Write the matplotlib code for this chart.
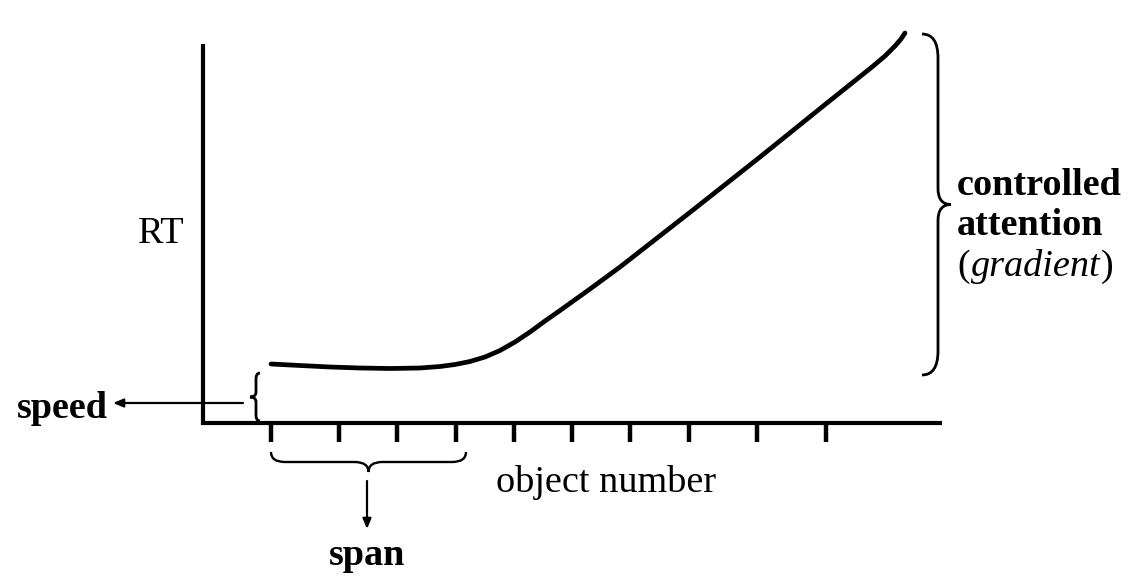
import matplotlib
matplotlib.use("Agg")
import matplotlib.pyplot as plt
from matplotlib.path import Path
from matplotlib.patches import PathPatch

# ---- data (schematic, in picture units) ----
curve_x = [271, 300, 330, 360, 390, 420, 440, 455, 470, 485, 500, 515, 530, 545, 560, 590, 620,
           693, 760, 827, 857, 872, 885, 895, 901, 905]
curve_y = [364, 365.5, 367, 368, 368.5, 368, 366.5, 364.5, 361.5, 357, 350.5, 342, 332, 321, 310.5, 289, 267,
           210, 157, 103, 79, 67, 56, 46, 39, 33]
tick_x = [271, 339, 397, 456, 514, 572, 630, 689, 757, 826]
x_axis_label = "object number"
y_axis_label = "RT"
span_label = "span"
speed_label = "speed"
right_lines = ["controlled", "attention"]
gradient_word = "gradient"

SERIF = "Liberation Serif"
FS = 27.5

fig = plt.figure(figsize=(11.29, 5.77), dpi=100)
ax = fig.add_axes([0, 0, 1, 1])
ax.set_xlim(0, 1129)
ax.set_ylim(577, 0)
ax.axis("off")

# axes lines
ax.plot([203, 203], [44, 425], color="black", lw=3.0, solid_capstyle="butt")
ax.plot([201, 942], [423, 423], color="black", lw=3.0, solid_capstyle="butt")
for tx in tick_x:
    ax.plot([tx, tx], [423, 442], color="black", lw=3.2, solid_capstyle="butt")

# curve
ax.plot(curve_x, curve_y, color="black", lw=3.4, solid_capstyle="round", solid_joinstyle="round")


def vbrace(x0, xm, xt, y0, y1, r, rt, lw):
    """vertical brace: ends at x0, spine at xm, tip at xt"""
    ym = (y0 + y1) / 2
    verts = [(x0, y0), (xm, y0), (xm, y0 + r),
             (xm, ym - rt), (xm, ym), (xt, ym),
             (xm, ym), (xm, ym + rt),
             (xm, y1 - r), (xm, y1), (x0, y1)]
    codes = [Path.MOVETO, Path.CURVE3, Path.CURVE3,
             Path.LINETO, Path.CURVE3, Path.CURVE3,
             Path.CURVE3, Path.CURVE3,
             Path.LINETO, Path.CURVE3, Path.CURVE3]
    ax.add_patch(PathPatch(Path(verts, codes), fill=False, lw=lw, color="black"))


def hbrace(y0, ym_, yt, x0, x1, r, lw):
    xm = (x0 + x1) / 2
    verts = [(x0, y0), (x0, ym_), (x0 + r, ym_),
             (xm - r, ym_), (xm, ym_), (xm, yt),
             (xm, ym_), (xm + r, ym_),
             (x1 - r, ym_), (x1, ym_), (x1, y0)]
    codes = [Path.MOVETO, Path.CURVE3, Path.CURVE3,
             Path.LINETO, Path.CURVE3, Path.CURVE3,
             Path.CURVE3, Path.CURVE3,
             Path.LINETO, Path.CURVE3, Path.CURVE3]
    ax.add_patch(PathPatch(Path(verts, codes), fill=False, lw=lw, color="black"))


# right brace (controlled attention)
vbrace(922, 938, 951, 34, 375, 24, 16, 2.0)
# speed brace (left pointing)
vbrace(260, 256, 250, 373, 421, 6, 5, 2.0)
# span brace
hbrace(452, 462, 472, 271, 466, 14, 1.7)

# arrows
ax.annotate("", xy=(113, 403), xytext=(243, 403),
            arrowprops=dict(arrowstyle="-|>,head_length=0.6,head_width=0.25", lw=1.6, color="black",
                            shrinkA=0, shrinkB=0))
ax.annotate("", xy=(367, 529), xytext=(367, 481),
            arrowprops=dict(arrowstyle="-|>,head_length=0.6,head_width=0.25", lw=1.6, color="black",
                            shrinkA=0, shrinkB=0))

# texts
ax.text(138, 243, y_axis_label, fontsize=FS, family=SERIF, ha="left", va="baseline")
ax.text(496, 492, x_axis_label, fontsize=FS, family=SERIF, ha="left", va="baseline")
ax.text(108, 418, speed_label, fontsize=FS, family=SERIF, weight="bold", ha="right", va="baseline")
ax.text(367, 565, span_label, fontsize=FS, family=SERIF, weight="bold", ha="center", va="baseline")
ax.text(957, 195, right_lines[0], fontsize=FS, family=SERIF, weight="bold", ha="left", va="baseline")
ax.text(957, 235, right_lines[1], fontsize=FS, family=SERIF, weight="bold", ha="left", va="baseline")

# (gradient) with italic word
fig.canvas.draw()
r = fig.canvas.get_renderer()
t1 = ax.text(957, 276, "(", fontsize=FS, family=SERIF, ha="left", va="baseline")
bb = t1.get_window_extent(r)
x_next = ax.transData.inverted().transform((bb.x1, 0))[0]
t2 = ax.text(x_next + 1, 276, gradient_word, fontsize=FS, family=SERIF, style="italic", ha="left", va="baseline")
bb2 = t2.get_window_extent(r)
x_next2 = ax.transData.inverted().transform((bb2.x1, 0))[0]
ax.text(x_next2 + 1, 276, ")", fontsize=FS, family=SERIF, ha="left", va="baseline")

fig.savefig("out.png", dpi=100, facecolor="white")
